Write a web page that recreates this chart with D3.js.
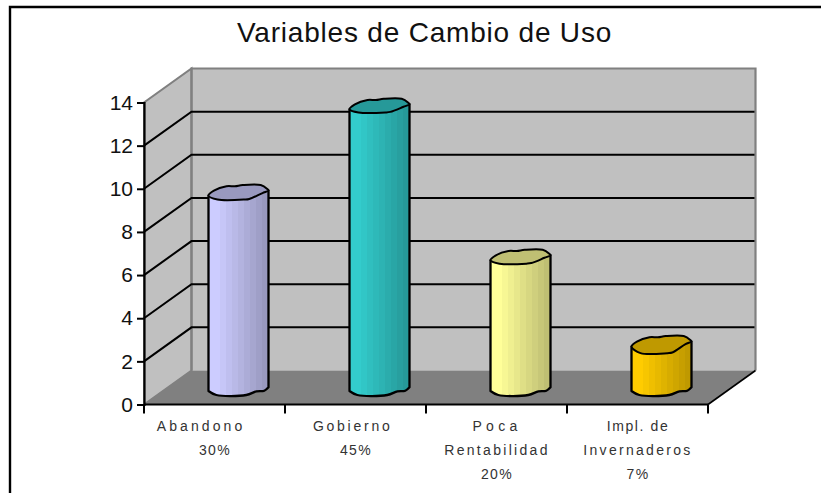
<!DOCTYPE html>
<html>
<head>
<meta charset="utf-8">
<style>
html,body{margin:0;padding:0;background:#fff;overflow:hidden}
svg{display:block}
text{font-family:"Liberation Sans",Arial,sans-serif;white-space:pre}
</style>
<script src="https://cdn.jsdelivr.net/npm/d3@7"></script>
</head>
<body>
<script>
const titleText = "Variables de Cambio de Uso";
const categories = ["Abandono", "Gobierno", "Poca Rentabilidad", "Impl. de Invernaderos"];
const categoryLines = [
  ["Abandono    ", "30%"],
  ["Gobierno ", "45%"],
  ["Poca", "Rentabilidad", "20%"],
  ["Impl. de", "Invernaderos", "7%"]
];
const values = [9, 13, 6, 2];
const lightColors = ["#CCCCFF", "#33CCCC", "#FFFF99", "#FFCC00"];
const darkColors = ["#9999BF", "#269999", "#BFBF73", "#BF9900"];
const yTicks = [0, 2, 4, 6, 8, 10, 12, 14];

const W = 821, H = 493;
const left = 144, right = 708, base = 404.5, top14 = 102.5;
const dx = 47.5, dy = -34;
const barW = 60, barShiftX = 24, barShiftY = -13.5;

const svg = d3.select("body").append("svg").attr("width", W).attr("height", H);
const defs = svg.append("defs");

const x = d3.scaleBand().domain(categories).range([left, right]).padding(0);
const y = d3.scaleLinear().domain([0, 14]).range([base, top14]);

// frame
svg.append("path").attr("d", `M10,${H}V7H${W}`).attr("fill", "none").attr("stroke", "#000").attr("stroke-width", 2.4);

// title
svg.append("text").attr("x", 424.5).attr("y", 42).attr("text-anchor", "middle")
  .attr("font-size", 28).attr("letter-spacing", 0.8).attr("fill", "#111").text(titleText);

// walls and floor
const wallTop = y(14) + dy, wallBot = y(0) + dy;
svg.append("rect").attr("x", left + dx).attr("y", wallTop).attr("width", right - left).attr("height", wallBot - wallTop)
  .attr("fill", "#C0C0C0");
svg.append("path").attr("d", `M${left},${y(0)}L${left + dx},${wallBot}V${wallTop}L${left},${y(14)}Z`)
  .attr("fill", "#C0C0C0").attr("stroke", "#808080").attr("stroke-width", 2);
svg.append("path").attr("d", `M${left},${y(0)}L${left + dx},${wallBot}H${right + dx}L${right},${y(0)}Z`)
  .attr("fill", "#808080");
svg.append("path").attr("d", `M${left + dx},${wallBot}V${wallTop}H${right + dx}V${wallBot}`)
  .attr("fill", "none").attr("stroke", "#808080").attr("stroke-width", 2.2);
svg.append("line").attr("x1", right).attr("y1", y(0)).attr("x2", right + dx).attr("y2", wallBot)
  .attr("stroke", "#000").attr("stroke-width", 1.6);

// grid
const gridVals = yTicks.filter(v => v > 0 && v < 14);
const grid = svg.append("g").attr("stroke", "#000").attr("stroke-width", 2).attr("fill", "none");
grid.selectAll("path.g").data(gridVals).join("path").attr("class", "g")
  .attr("d", v => `M${left},${y(v)}L${left + dx},${y(v) + dy}H${right + dx - 1}`);

// axes
const yAxis = d3.axisLeft(y).tickValues(yTicks).tickSize(7).tickPadding(4).tickFormat(d3.format("d"));
const gy = svg.append("g").attr("transform", `translate(${left},0)`).call(yAxis);
gy.select(".domain").attr("stroke", "#000").attr("stroke-width", 2.2);
gy.selectAll(".tick line").attr("stroke", "#000").attr("stroke-width", 2);
gy.selectAll("text").attr("font-family", '"Liberation Sans",Arial,sans-serif').attr("font-size", 21).attr("fill", "#111");

const bandEdges = categories.map(c => x(c)).concat([right]);
svg.append("line").attr("x1", left).attr("x2", right).attr("y1", y(0)).attr("y2", y(0)).attr("stroke", "#000").attr("stroke-width", 2.2);
svg.append("g").selectAll("line").data(bandEdges).join("line")
  .attr("x1", d => d).attr("x2", d => d).attr("y1", y(0)).attr("y2", y(0) + 9)
  .attr("stroke", "#000").attr("stroke-width", 2);

// category labels
const lineY = [431, 454.5, 478.5];
const spacing = t => t.endsWith("%") ? 1.3 :
  ({"Poca": 4.3, "Impl. de": 1.6, "Abandono    ": 3.1, "Gobierno ": 2.75})[t] || 2.3;
const lab = svg.append("g").attr("font-size", 14).attr("fill", "#333").attr("text-anchor", "middle");
categoryLines.forEach((lines, i) => {
  lines.forEach((t, j) => {
    lab.append("text").attr("x", x(categories[i]) + x.bandwidth() / 2 + 0.5)
      .attr("y", lineY[j]).attr("letter-spacing", spacing(t)).text(t);
  });
});

// cylinders: a wavy outline, in units of bar width (first) and pixels (second)
const topBack = [[0,0],[0.09,-5],[0.30,-9.3],[0.44,-9.3],[0.57,-10.5],[0.87,-10.5],[0.98,-6.5],[1,-5]];
const bottom = [[0,0],[0.13,4],[0.63,4],[0.80,0.4],[0.93,-0.3],[1,-3.7]];
const frontSag = [4, 3.2, 3.4, 6.6];
const nBands = 10;
const bandPos = d3.range(nBands + 1).map(i => i / nBands);

const bars = svg.append("g").selectAll("g").data(values).join("g");
bars.each(function (v, i) {
  const g = d3.select(this);
  const x0 = x(categories[i]) + x.bandwidth() / 2 + barShiftX - barW / 2;
  const yTop = y(v) + barShiftY - 1.3;
  const yBot = y(0) + barShiftY;
  const px = p => x0 + p[0] * barW;
  const sag = frontSag[i];
  const topFront = [[0.90,-2.5],[0.68,sag - 0.6],[0.60,sag],[0.15,sag]];
  const curve = d3.line().x(px).y(p => p[1]).curve(d3.curveCatmullRom.alpha(0.5));
  const id = "grad" + i;
  const grad = defs.append("linearGradient").attr("id", id);
  const mix = d3.interpolateRgb(lightColors[i], darkColors[i]);
  d3.range(nBands).forEach(k => {
    const c = mix(Math.max(0, k - 1) / (nBands - 2));
    grad.append("stop").attr("offset", bandPos[k]).attr("stop-color", c);
    grad.append("stop").attr("offset", bandPos[k + 1]).attr("stop-color", c);
  });
  const bottomPts = bottom.map(p => [p[0], yBot + p[1]]);
  const bodyD = `M${px([0])},${yTop}` + curve(bottomPts).replace(/^M/, "L") + `L${px([1])},${yTop - 5}Z`;
  g.append("path").attr("d", bodyD)
    .attr("fill", `url(#${id})`).attr("stroke", "#000").attr("stroke-width", 2.3).attr("stroke-linejoin", "round");
  const topPts = topBack.concat(topFront).map(p => [p[0], yTop + p[1]]);
  const closed = d3.line().x(px).y(p => p[1]).curve(d3.curveCatmullRomClosed.alpha(0.5));
  g.append("path").attr("d", closed(topPts))
    .attr("fill", darkColors[i]).attr("stroke", "#000").attr("stroke-width", 2).attr("stroke-linejoin", "round");
});
</script>
</body>
</html>
